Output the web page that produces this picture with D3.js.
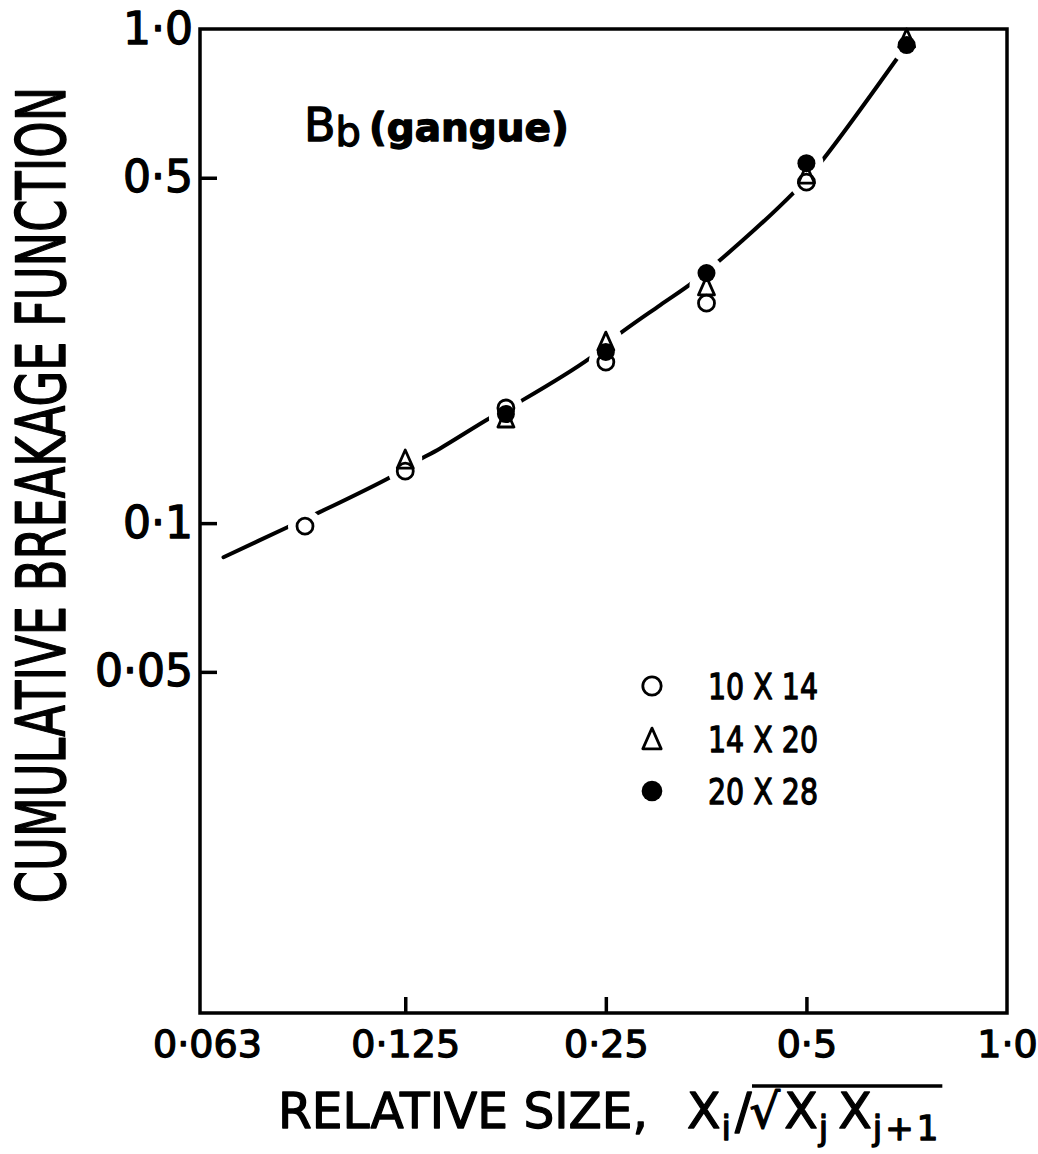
<!DOCTYPE html>
<html>
<head>
<meta charset="utf-8">
<script src="https://cdn.jsdelivr.net/npm/d3@7"></script>
<style>
  body { margin: 0; background: #fff; }
  svg { display: block; }
</style>
</head>
<body>
<svg id="chart" width="1038" height="1154"></svg>
<script>
// Relative size X_i / sqrt(X_j X_j+1) and cumulative breakage function for three feed sizes
const open10x14X   = [0.0884, 0.125, 0.177, 0.25, 0.354, 0.5];
const open10x14Y   = [0.0986, 0.1274, 0.171, 0.2118, 0.2787, 0.490];
const tri14x20X    = [0.125, 0.177, 0.25, 0.354, 0.5, 0.707];
const tri14x20Y    = [0.1348, 0.1632, 0.2335, 0.302, 0.5087, 0.959];
const filled20x28X = [0.177, 0.25, 0.354, 0.5, 0.707];
const filled20x28Y = [0.1662, 0.222, 0.3207, 0.535, 0.928];

// Smooth fitted curve through the data
const fitX = [0.0667, 0.0832, 0.0910, 0.1187, 0.1286, 0.1412, 0.1675, 0.1875, 0.2367, 0.2606, 0.3017, 0.3380, 0.4016, 0.4776, 0.5186, 0.6864, 0.707];
const fitY = [0.0853, 0.0981, 0.1038, 0.1239, 0.1323, 0.1418, 0.1632, 0.1774, 0.2158, 0.2402, 0.2763, 0.3075, 0.3739, 0.4656, 0.5255, 0.8776, 0.93];

const xTickValues = [0.063, 0.125, 0.25, 0.5, 1.0];
const xTickLabels = ["0·063", "0·125", "0·25", "0·5", "1·0"];
const yTickValues = [1.0, 0.5, 0.1, 0.05];
const yTickLabels = ["1·0", "0·5", "0·1", "0·05"];

const legendLabels = ["10 X 14", "14 X 20", "20 X 28"];
const legendKinds  = ["open", "triangle", "filled"];

const svg = d3.select("#chart");
const FONT = "'DejaVu Sans', 'Liberation Sans', sans-serif";

const plotLeft = 200, plotRight = 1007, plotTop = 29, plotBottom = 1013;
const x = d3.scaleLog().domain([0.0615, 1]).range([plotLeft, plotRight]);
const y = d3.scaleLog().domain([0.0102, 1]).range([plotBottom, plotTop]);

const triPath = (w, h) => `M0,${-h/2}L${w/2},${h/2}L${-w/2},${h/2}Z`;

// lettering with a little extra stroke weight
const ink = (sel, w) => sel.attr("fill", "#000").attr("stroke", "#000")
  .attr("stroke-width", w || 1.3).attr("stroke-linejoin", "round");

// fitted curve
const fitPts = fitX.map((v, i) => [x(v), y(fitY[i])]);
svg.append("path")
  .attr("d", d3.line().curve(d3.curveCatmullRom.alpha(0.5))(fitPts))
  .attr("fill", "none").attr("stroke", "#000")
  .attr("stroke-width", 4).attr("stroke-linecap", "round");

// white clearance around each plotted point so the curve breaks there
const allPts = [
  ...open10x14X.map((v, i) => [v, open10x14Y[i]]),
  ...tri14x20X.map((v, i) => [v, tri14x20Y[i]]),
  ...filled20x28X.map((v, i) => [v, filled20x28Y[i]])
];
svg.append("g").selectAll("circle").data(allPts).join("circle")
  .attr("cx", d => x(d[0])).attr("cy", d => y(d[1])).attr("r", 17)
  .attr("fill", "#fff");

// axes with inward ticks
const xAxis = d3.axisBottom(x).tickValues(xTickValues)
  .tickFormat((d, i) => xTickLabels[i]).tickSizeInner(-16).tickSizeOuter(0).tickPadding(17);
const gx = svg.append("g").attr("transform", `translate(0,${plotBottom})`).call(xAxis);
const yAxis = d3.axisLeft(y).tickValues(yTickValues)
  .tickFormat((d, i) => yTickLabels[i]).tickSizeInner(-17).tickSizeOuter(0).tickPadding(7);
const gy = svg.append("g").attr("transform", `translate(${plotLeft},0)`).call(yAxis);

[gx, gy].forEach(g => {
  g.select(".domain").remove();
  g.selectAll(".tick line").attr("stroke", "#000").attr("stroke-width", 3.5);
  g.selectAll(".tick text").attr("font-family", FONT).call(ink);
});
gx.selectAll(".tick").filter(d => d === 0.063 || d === 1.0).select("line").remove();
gy.selectAll(".tick").filter(d => d === 1.0).select("line").remove();
gx.selectAll(".tick text").attr("font-size", 38);
gy.selectAll(".tick text").attr("font-size", 44);

// frame
svg.append("rect").attr("x", plotLeft).attr("y", plotTop)
  .attr("width", plotRight - plotLeft).attr("height", plotBottom - plotTop)
  .attr("fill", "none").attr("stroke", "#000").attr("stroke-width", 3.5);

// markers
function drawMarker(g, kind, cx, cy, scale) {
  const s = scale || 1;
  if (kind === "open") {
    g.append("circle").attr("cx", cx).attr("cy", cy).attr("r", 8 * s)
      .attr("fill", "none").attr("stroke", "#000").attr("stroke-width", 2.8);
  } else if (kind === "triangle") {
    g.append("path").attr("d", triPath(16 * s, 18 * s))
      .attr("transform", `translate(${cx},${cy})`)
      .attr("fill", "none").attr("stroke", "#000").attr("stroke-width", 2.8)
      .attr("stroke-linejoin", "round");
  } else {
    g.append("circle").attr("cx", cx).attr("cy", cy).attr("r", 9 * s).attr("fill", "#000");
  }
}
const gm = svg.append("g");
open10x14X.forEach((v, i) => drawMarker(gm, "open", x(v), y(open10x14Y[i])));
tri14x20X.forEach((v, i) => drawMarker(gm, "triangle", x(v), y(tri14x20Y[i])));
filled20x28X.forEach((v, i) => drawMarker(gm, "filled", x(v), y(filled20x28Y[i])));

// legend
const gl = svg.append("g");
legendLabels.forEach((lab, i) => {
  const cy = 686 + i * 52.5;
  drawMarker(gl, legendKinds[i], 652, cy, 1.15);
  gl.append("text").attr("x", 708).attr("y", cy + 13)
    .attr("font-family", FONT).attr("font-size", 35)
    .attr("textLength", 110).attr("lengthAdjust", "spacingAndGlyphs")
    .call(ink)
    .text(lab);
});

// panel title B_b (gangue)
const title = svg.append("text").attr("x", 304).attr("y", 141).attr("font-family", FONT).call(ink);
title.append("tspan").attr("font-size", 46).text("B");
title.append("tspan").attr("font-size", 40).attr("dy", 5).text("b");
title.append("tspan").attr("font-size", 39).attr("font-weight", "bold").attr("dy", -5).attr("dx", 8).text("(gangue)");

// y-axis title: narrow tall lettering, stretched across the baseline
svg.append("text")
  .attr("transform", "translate(65,495) rotate(-90) scale(1,1.47)")
  .attr("text-anchor", "middle")
  .attr("font-family", FONT).attr("font-size", 46.2)
  .call(ink, 1.0)
  .text("CUMULATIVE BREAKAGE FUNCTION");

// x-axis title
svg.append("text").attr("x", 278).attr("y", 1128)
  .attr("font-family", FONT).attr("font-size", 49)
  .attr("textLength", 370).attr("lengthAdjust", "spacingAndGlyphs")
  .call(ink)
  .text("RELATIVE SIZE,");

const xt = svg.append("text").attr("x", 687).attr("y", 1128)
  .attr("font-family", FONT).attr("font-size", 49).call(ink);
xt.append("tspan").text("X");
xt.append("tspan").attr("font-size", 34).attr("dy", 12).attr("dx", 1).text("i");
xt.append("tspan").attr("dy", -12).attr("dx", 4).text("/");
xt.append("tspan").attr("font-size", 48).attr("dx", -2).text("√");
xt.append("tspan").attr("dx", 4).text("X");
xt.append("tspan").attr("font-size", 34).attr("dy", 12).attr("dx", 1).text("j");
xt.append("tspan").attr("dy", -12).attr("dx", 10).text("X");
xt.append("tspan").attr("font-size", 34).attr("dy", 12).attr("dx", 1)
  .attr("letter-spacing", 3).text("j+1");

const bb = xt.node().getBBox();
svg.append("line")
  .attr("x1", 752).attr("x2", bb.x + bb.width + 1)
  .attr("y1", 1086).attr("y2", 1086)
  .attr("stroke", "#000").attr("stroke-width", 3.5);
</script>
</body>
</html>
